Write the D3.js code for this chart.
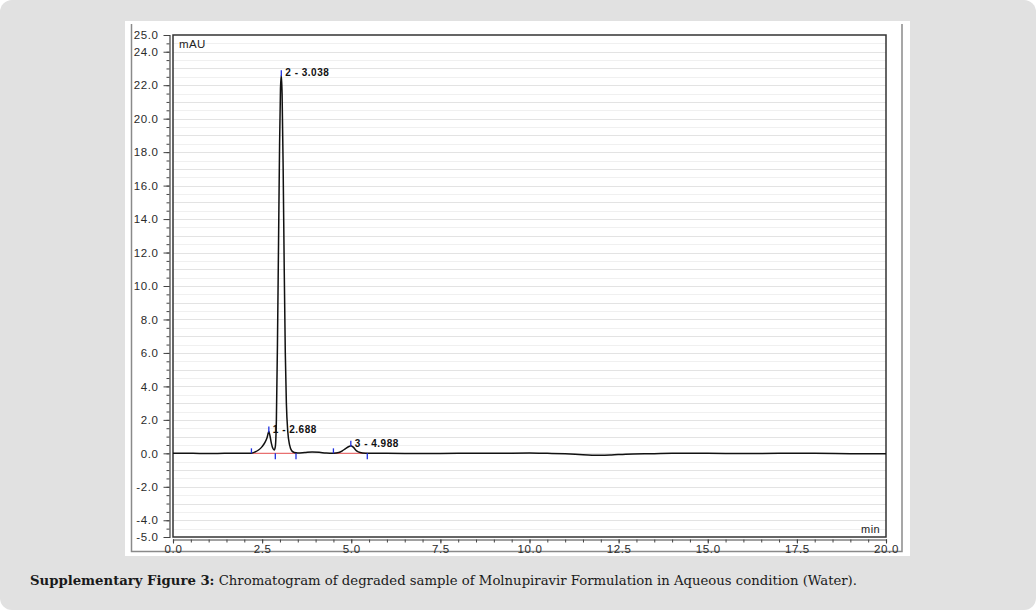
<!DOCTYPE html>
<html><head><meta charset="utf-8">
<script src="https://cdn.jsdelivr.net/npm/d3@7"></script>
<style>html,body{margin:0;padding:0;background:#fff;}svg{display:block;}</style>
</head><body>
<svg id="c" width="1036" height="610"></svg>
<script>
// ---- data ----
const times = [0.0,0.5,1.0,1.5,2.0,2.2,2.3,2.4,2.5,2.58,2.64,2.688,2.72,2.76,2.80,2.84,2.87,2.90,2.93,2.96,2.99,3.015,3.038,3.06,3.09,3.12,3.15,3.18,3.22,3.27,3.33,3.4,3.5,3.7,3.9,4.1,4.3,4.5,4.65,4.75,4.85,4.95,4.988,5.05,5.15,5.25,5.4,5.6,6.0,7.0,8.0,9.0,10.0,10.5,11.0,11.5,12.0,12.3,12.7,13.5,14.0,15.0,16.0,17.0,18.0,19.0,20.0];
const signal = [0.0,0.0,-0.01,0.0,0.0,0.01,0.08,0.2,0.4,0.65,0.95,1.3,1.05,0.6,0.3,0.2,0.4,2.0,6.5,12.5,18.5,21.8,22.6,21.5,17.0,11.0,6.0,3.0,1.3,0.5,0.15,0.05,0.02,0.05,0.08,0.06,0.02,0.01,0.05,0.15,0.3,0.42,0.45,0.38,0.15,0.05,0.01,0.0,0.0,-0.01,0.0,0.0,0.02,0.0,-0.03,-0.08,-0.12,-0.1,-0.05,-0.02,0.0,0.0,-0.01,0.0,0.0,-0.02,-0.03];
const peakTimes = [2.688, 3.038, 4.988];
const peakHeights = [1.3, 22.6, 0.45];
const peakLabels = ["1 - 2.688", "2 - 3.038", "3 - 4.988"];
const startMarks = [2.2, 4.5];
const endMarks = [2.87, 3.45, 5.45];
const baselineSegs = [[2.2, 3.45], [4.5, 5.45]];
const yLabelTicks = [25, 24, 22, 20, 18, 16, 14, 12, 10, 8, 6, 4, 2, 0, -2, -4, -5];
const xLabelTicks = [0, 2.5, 5, 7.5, 10, 12.5, 15, 17.5, 20];
const caption = ["Supplementary Figure 3:", " Chromatogram of degraded sample of Molnupiravir Formulation in Aqueous condition (Water)."];

// ---- layout ----
const SANS = "'Liberation Sans', Arial, Helvetica, sans-serif";
const fmt = v => v.toFixed(1);
const svg = d3.select("#c");
svg.append("rect").attr("x",0).attr("y",0).attr("width",1036).attr("height",610).attr("rx",12).attr("fill","#e1e1e1");
svg.append("rect").attr("x",125).attr("y",21).attr("width",785).attr("height",535).attr("fill","#fff");
// outer frame
svg.append("path").attr("d","M131.5,24 V551.5 H902 V24").attr("fill","none").attr("stroke","#8a8a8a").attr("stroke-width",1.5);

const L=173, R=886, T=35, B=537;
const x = d3.scaleLinear().domain([0,20]).range([L,R]);
const y = d3.scaleLinear().domain([-5,25]).range([B,T]);

// grid
const gridVals = d3.range(-5, 25.01, 0.5);
svg.append("g").selectAll("line").data(gridVals.filter(v=>v>-5&&v<25)).join("line")
  .attr("x1",L).attr("x2",R).attr("y1",d=>Math.round(y(d))+0.5).attr("y2",d=>Math.round(y(d))+0.5)
  .attr("stroke",d=>Number.isInteger(d)?"#e3e3e3":"#f0f0f0").attr("stroke-width",1);

// y axis (separate line at x=169)
const yAxisX = 169.5;
const yAx = svg.append("g").attr("transform",`translate(${yAxisX},0)`)
  .call(d3.axisLeft(y).tickValues(gridVals).tickSize(3).tickFormat(""));
yAx.select(".domain").attr("stroke","#444").attr("stroke-width",1.2);
yAx.selectAll(".tick line").attr("stroke","#444");
const yAx2 = svg.append("g").attr("transform",`translate(${yAxisX},0)`)
  .call(d3.axisLeft(y).tickValues(yLabelTicks).tickSize(6).tickPadding(5).tickFormat(fmt));
yAx2.select(".domain").remove();
yAx2.selectAll(".tick line").attr("stroke","#444");
yAx2.selectAll("text").attr("font-family",SANS).attr("font-size",11.5).attr("letter-spacing",0.6).attr("fill","#2a2a2a");

// x axis
const xAxisY = 539.5;
const xMinor = d3.range(0, 20.01, 0.5);
const xAx = svg.append("g").attr("transform",`translate(0,${xAxisY})`)
  .call(d3.axisBottom(x).tickValues(xMinor).tickSize(3).tickFormat(""));
xAx.select(".domain").attr("stroke","#444").attr("stroke-width",1.2);
xAx.selectAll(".tick line").attr("stroke","#444");
const xAx2 = svg.append("g").attr("transform",`translate(0,${xAxisY})`)
  .call(d3.axisBottom(x).tickValues(xLabelTicks).tickSize(4).tickPadding(1).tickFormat(fmt));
xAx2.select(".domain").remove();
xAx2.selectAll(".tick line").attr("stroke","#444");
xAx2.selectAll("text").attr("font-family",SANS).attr("font-size",11.5).attr("letter-spacing",0.6).attr("fill","#2a2a2a");

// plot frame
svg.append("rect").attr("x",L).attr("y",T).attr("width",R-L).attr("height",B-T)
  .attr("fill","none").attr("stroke","#333").attr("stroke-width",1.5);

// units
svg.append("text").attr("x",179).attr("y",48).text("mAU")
  .attr("font-family",SANS).attr("font-size",11.5).attr("letter-spacing",0.4).attr("fill","#222");
svg.append("text").attr("x",880).attr("y",533).attr("text-anchor","end").text("min")
  .attr("font-family",SANS).attr("font-size",11).attr("letter-spacing",0.4).attr("fill","#222");

// baseline segments
svg.append("g").selectAll("line").data(baselineSegs).join("line")
  .attr("x1",d=>x(d[0])).attr("x2",d=>x(d[1])).attr("y1",y(0)).attr("y2",y(0))
  .attr("stroke","#e87070").attr("stroke-width",1.3);

// trace
const pts = times.map((t,i)=>[t, signal[i]]);
svg.append("path").datum(pts)
  .attr("d", d3.line().x(d=>x(d[0])).y(d=>y(d[1])).curve(d3.curveMonotoneX))
  .attr("fill","none").attr("stroke","#111").attr("stroke-width",1.5).attr("stroke-linejoin","round");

// markers
const blue = "#2030e0";
svg.append("g").selectAll("line").data(startMarks).join("line")
  .attr("x1",d=>x(d)).attr("x2",d=>x(d)).attr("y1",y(0)-5).attr("y2",y(0))
  .attr("stroke",blue).attr("stroke-width",1.3);
svg.append("g").selectAll("line").data(endMarks).join("line")
  .attr("x1",d=>x(d)).attr("x2",d=>x(d)).attr("y1",y(0)).attr("y2",y(0)+6)
  .attr("stroke",blue).attr("stroke-width",1.3);
svg.append("g").selectAll("line").data(peakTimes).join("line")
  .attr("x1",d=>x(d)).attr("x2",d=>x(d)).attr("y1",(d,i)=>y(peakHeights[i])-5).attr("y2",(d,i)=>y(peakHeights[i])+1)
  .attr("stroke",blue).attr("stroke-width",1.3);

// peak labels
svg.append("g").selectAll("text").data(peakTimes).join("text")
  .attr("x",d=>x(d)+4).attr("y",(d,i)=>y(peakHeights[i])+1)
  .text((d,i)=>peakLabels[i])
  .attr("font-family",SANS).attr("font-weight","bold").attr("font-size",10).attr("letter-spacing",0.5).attr("fill","#111");

// caption
const cap = svg.append("text").attr("x",30).attr("y",585)
  .attr("font-family","'DejaVu Serif', serif").attr("font-size",13).attr("fill","#1a1a1a");
cap.append("tspan").attr("font-weight","bold").text(caption[0]);
cap.append("tspan").text(caption[1]);
cap.attr("textLength", 827).attr("lengthAdjust","spacingAndGlyphs");
</script>
</body></html>
